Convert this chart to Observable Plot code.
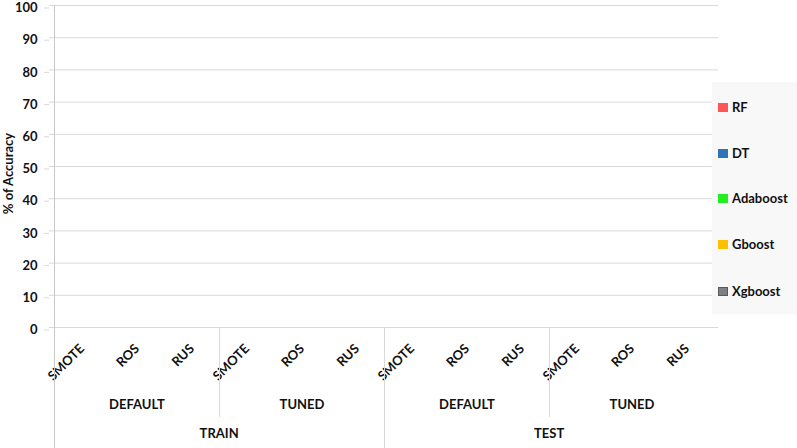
<!DOCTYPE html>
<html><head><meta charset="utf-8">
<script src="https://cdn.jsdelivr.net/npm/d3@7"></script>
<script src="https://cdn.jsdelivr.net/npm/@observablehq/plot@0.6"></script>
<style>
body{margin:0;background:#fff;font-family:Lato,"Open Sans",sans-serif}
#wrap{position:relative;width:797px;height:448px}
#legend{position:absolute;left:712px;top:82px;width:85px;height:232px;background:#f8f8f8}
.item{position:absolute;left:6px;height:16px;display:flex;align-items:center;font-weight:bold;font-size:13px;color:#111;transform:translateY(-50%)}
.sw{width:10px;height:9px;margin-right:4px;box-sizing:border-box}
</style></head>
<body><div id="wrap"></div>
<script>
const phases = ["TRAIN", "TEST"];
const settings = ["DEFAULT", "TUNED"];
const samplers = ["SMOTE", "ROS", "RUS"];
const models = ["RF", "DT", "Adaboost", "Gboost", "Xgboost"];
const modelColors = ["#ff5555", "#2e75b6", "#22ee22", "#ffc000", "#808080"];
const yTicks = [0, 10, 20, 30, 40, 50, 60, 70, 80, 90, 100];
// The reference shows no bars: every accuracy series is empty.
const accRF = [];
const accDT = [];
const accAdaboost = [];
const accGboost = [];
const accXgboost = [];

const cats = [];
for (const p of phases) for (const s of settings) for (const m of samplers)
  cats.push({key: `${p}|${s}|${m}`, phase: p, setting: s, sampler: m});
const keys = cats.map(d => d.key);
const series = [accRF, accDT, accAdaboost, accGboost, accXgboost];
const rows = [];
series.forEach((arr, i) => arr.forEach((v, j) => { if (v != null) rows.push({key: keys[j], model: models[i], value: v}); }));

const W = 797, H = 448, ML = 49, MR = 79, MT = 5, MB = 121;
const bw = (W - ML - MR) / keys.length;
const settingRows = [];
for (const p of phases) for (const s of settings) settingRows.push({key: `${p}|${s}|${samplers[1]}`, label: s});
const phaseRows = phases.map(p => ({key: `${p}|${settings[1]}|${samplers[0]}`, label: p}));

const chart = Plot.plot({
  width: W, height: H,
  marginLeft: ML, marginRight: MR, marginTop: MT, marginBottom: MB,
  style: {fontFamily: "Lato, 'Open Sans', sans-serif", fontWeight: "bold", fontSize: "13px", color: "#111", background: "#fff", overflow: "visible"},
  x: {type: "band", domain: keys, padding: 0, axis: null},
  y: {domain: [0, 100], axis: null},
  color: {domain: models, range: modelColors},
  marks: [
    Plot.gridY(yTicks, {stroke: "#d9d9d9", strokeOpacity: 1}),
    Plot.axisY(yTicks, {tickSize: 5, stroke: "#d9d9d9", tickPadding: 7, dy: 2.5, label: null, fontSize: 13, fontWeight: "bold"}),
    Plot.barY(rows, {x: "key", y: "value", fill: "model"}),
    Plot.text(cats, {x: "key", text: "sampler", frameAnchor: "bottom", rotate: -45, textAnchor: "end", dx: 3, dy: 22, fontSize: 13, fontWeight: "bold"}),
    Plot.text(settingRows, {x: "key", text: "label", frameAnchor: "bottom", dy: 81, fontSize: 13, fontWeight: "bold"}),
    Plot.text(phaseRows, {x: "key", text: "label", frameAnchor: "bottom", dx: -bw / 2, dy: 110, fontSize: 13, fontWeight: "bold"}),
    Plot.text(["% of Accuracy"], {frameAnchor: "left", textAnchor: "middle", rotate: -90, dx: -41, dy: 7, fontSize: 13, fontWeight: "bold"})
  ]
});

// boundary lines placed with the chart's own scales
const xs = chart.scale("x"), ys = chart.scale("y");
const y0 = ys.apply(0);
const svg = d3.select(chart);
const lines = [];
keys.forEach((k, i) => {
  if (i % samplers.length !== 0) return;
  const isPhase = i % (samplers.length * settings.length) === 0;
  lines.push({x: xs.apply(k), top: i === 0 ? ys.apply(100) : y0, bottom: isPhase ? H : y0 + 90, c: i === 0 ? "#c8c8c8" : "#d9d9d9"});
});
svg.append("g").selectAll("line").data(lines).join("line")
  .attr("x1", d => d.x + 0.5).attr("x2", d => d.x + 0.5)
  .attr("y1", d => d.top).attr("y2", d => d.bottom)
  .attr("stroke", d => d.c);

const wrap = document.getElementById("wrap");
wrap.appendChild(chart);
const legend = document.createElement("div");
legend.id = "legend";
const legendY = [25, 71, 116, 162, 209];
models.forEach((m, i) => {
  const it = document.createElement("div");
  it.className = "item";
  it.style.top = legendY[i] + "px";
  const sw = document.createElement("span");
  sw.className = "sw";
  sw.style.background = modelColors[i];
  if (m === "Xgboost") sw.style.border = "1px solid #595959";
  it.appendChild(sw);
  it.appendChild(document.createTextNode(m));
  legend.appendChild(it);
});
wrap.appendChild(legend);
</script>
</body></html>
